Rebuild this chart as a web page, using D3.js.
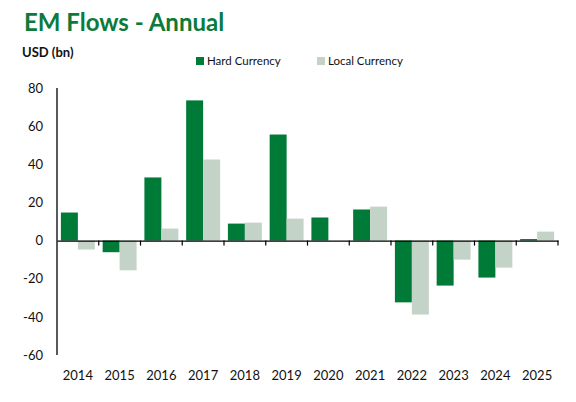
<!DOCTYPE html>
<html>
<head>
<meta charset="utf-8">
<script src="https://cdn.jsdelivr.net/npm/d3@7"></script>
<style>
  body { margin: 0; background: #fff; }
  svg text { font-family: Lato, "Open Sans", sans-serif; fill: #111; }
</style>
</head>
<body>
<div id="canvas"></div>
<script>
const years = ["2014", "2015", "2016", "2017", "2018", "2019", "2020", "2021", "2022", "2023", "2024", "2025"];
const hardCurrency = [14.7, -6.1, 33.1, 73.5, 8.9, 55.6, 12.1, 16.3, -32.4, -23.6, -19.4, 0.8];
const localCurrency = [-4.7, -15.6, 6.3, 42.5, 9.4, 11.5, 0, 17.8, -38.8, -10, -14.2, 4.7];
const yTicks = [80, 60, 40, 20, 0, -20, -40, -60];
const seriesNames = ["Hard Currency", "Local Currency"];
const colors = ["#007a37", "#c4d3c8"];

const width = 576, height = 402;
const margin = { top: 88, left: 57, bottom: 47, right: 18 };
const iwidth = width - margin.left - margin.right;
const iheight = height - margin.top - margin.bottom;

const svg = d3.select("#canvas").append("svg")
  .attr("width", width)
  .attr("height", height);

svg.append("text")
  .attr("x", 24).attr("y", 31)
  .style("font-size", "24px").style("font-weight", "bold")
  .style("fill", "#0b7a3a")
  .text("EM Flows - Annual");

svg.append("text")
  .attr("x", 22).attr("y", 57)
  .style("font-size", "13px").style("font-weight", "bold")
  .text("USD (bn)");

// legend
const legend = svg.append("g").attr("transform", "translate(196,57)");
seriesNames.forEach((name, i) => {
  const lg = legend.append("g").attr("transform", `translate(${i * 121},0)`);
  lg.append("rect").attr("width", 8).attr("height", 8).attr("y", 0).style("fill", colors[i]);
  lg.append("text").attr("x", 11).attr("y", 8).style("font-size", "11.5px").text(name);
});

const g = svg.append("g").attr("transform", `translate(${margin.left},${margin.top})`);

const y = d3.scaleLinear().domain([-60, 80]).range([iheight, 0]);
const x = d3.scaleBand().domain(years).range([0, iwidth]).paddingInner(0).paddingOuter(0);
const x1 = d3.scaleBand().domain([0, 1]).range([0, x.bandwidth()]).paddingOuter(0.23).paddingInner(0);

// y tick labels
g.selectAll(".ylab").data(yTicks).enter().append("text")
  .attr("class", "ylab")
  .attr("x", -14).attr("y", d => y(d)).attr("dy", "0.36em")
  .attr("text-anchor", "end")
  .style("font-size", "13px")
  .text(d => d);

const groups = g.selectAll(".yr").data(years).enter().append("g")
  .attr("transform", d => `translate(${x(d)},0)`);

[hardCurrency, localCurrency].forEach((series, si) => {
  groups.append("rect")
    .attr("x", x1(si))
    .attr("width", x1.bandwidth())
    .attr("y", (d, i) => y(Math.max(0, series[i])))
    .attr("height", (d, i) => Math.abs(y(series[i]) - y(0)))
    .style("fill", colors[si]);
});

// y axis line
g.append("line")
  .attr("x1", 0).attr("x2", 0).attr("y1", 0).attr("y2", iheight)
  .style("stroke", "#000").style("stroke-width", 1.3);

// zero line with ticks at band edges
const xAxis = d3.axisBottom(x).tickSize(0).tickFormat("");
const zero = g.append("g").attr("transform", `translate(0,${y(0)})`).call(xAxis);
zero.select(".domain").style("stroke", "#000").style("stroke-width", 1.3);
g.selectAll(".edge").data(years).enter().append("line")
  .attr("x1", d => x(d) + x.bandwidth()).attr("x2", d => x(d) + x.bandwidth())
  .attr("y1", y(0)).attr("y2", y(0) + 5)
  .style("stroke", "#000").style("stroke-width", 1.2);

// x labels
g.selectAll(".xlab").data(years).enter().append("text")
  .attr("x", d => x(d) + x.bandwidth() / 2)
  .attr("y", iheight + 25)
  .attr("text-anchor", "middle")
  .style("font-size", "13px")
  .text(d => d);
</script>
</body>
</html>
